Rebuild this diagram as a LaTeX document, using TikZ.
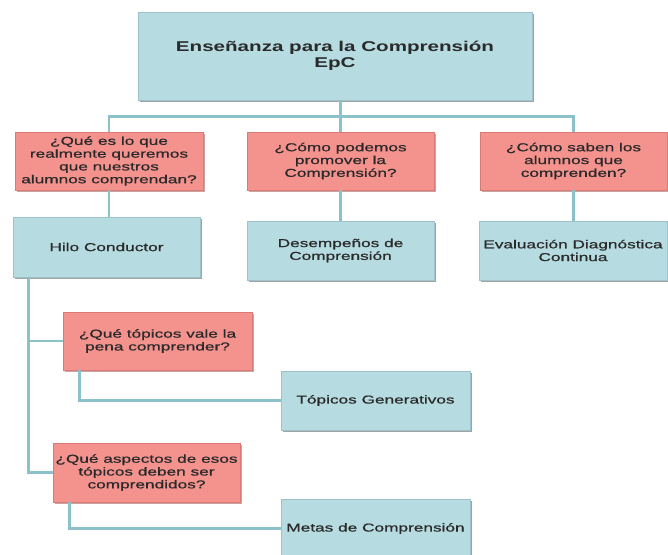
\documentclass[tikz,border=0pt]{standalone}
\usepackage{fontspec}
\setmainfont{Liberation Sans}
\newfontfamily\boxfont[FakeStretch=1.5,FakeBold=0.8]{Liberation Sans}
\newfontfamily\titlefont[FakeStretch=1.45]{Liberation Sans}
\usetikzlibrary{positioning, shadows}
\definecolor{epblue}{HTML}{B6DCE2}
\definecolor{epblueedge}{HTML}{9CC3CA}
\definecolor{epred}{HTML}{F4928E}
\definecolor{eprededge}{HTML}{D87A76}
\definecolor{eplink}{HTML}{8DC1CA}
\definecolor{eptext}{HTML}{2A2A2A}

\begin{document}
\begin{tikzpicture}[
  x=1pt, y=-1pt,
  every node/.style={font=\boxfont\fontsize{11.5}{12.8}\selectfont, text=eptext},
  bluebox/.style={rectangle, align=center, inner sep=0pt, fill=epblue, draw=epblueedge, line width=0.5pt, drop shadow={shadow xshift=1.5pt, shadow yshift=-2.4pt, opacity=.6, fill=black!60}},
  redbox/.style={rectangle, align=center, inner sep=0pt, fill=epred, draw=eprededge, line width=0.5pt, drop shadow={shadow xshift=1.5pt, shadow yshift=-2.4pt, opacity=.6, fill=black!55!red!60}},
  link/.style={draw=eplink, line width=2.6pt},
]
\useasboundingbox[fill=white] (0,0) rectangle (668,554);

% top
\node[bluebox, minimum width=394pt, minimum height=88pt, font=\titlefont\bfseries\fontsize{14.2}{15.5}\selectfont] (epc) at (335,56) {Enseñanza para la Comprensión\\EpC};

% questions
\node[redbox, minimum width=188pt, minimum height=58pt] (qwhat) at (109,161) {¿Qué es lo que\\realmente queremos\\que nuestros\\alumnos comprendan?};
\node[redbox, minimum width=187pt, minimum height=58pt] (qhow) at (340.5,161) {¿Cómo podemos\\promover la\\Comprensión?};
\node[redbox, minimum width=187pt, minimum height=58pt] (qknow) at (573.5,161) {¿Cómo saben los\\alumnos que\\comprenden?};

% answers
\node[bluebox, minimum width=187pt, minimum height=60pt] (hilo) at (106.5,247) {Hilo Conductor};
\node[bluebox, minimum width=187pt, minimum height=59pt] (desemp) at (340.5,250.5) {Desempeños de\\Comprensión};
\node[bluebox, minimum width=188pt, minimum height=59pt] (eval) at (573,250.5) {Evaluación Diagnóstica\\Continua};

% hilo conductor branch
\node[redbox, minimum width=189pt, minimum height=58pt] (qtopic) at (157.5,341) {¿Qué tópicos vale la\\pena comprender?};
\node[bluebox, minimum width=189pt, minimum height=59pt] (topicos) at (375.5,400.5) {Tópicos Generativos};
\node[redbox, minimum width=187pt, minimum height=59pt] (qaspect) at (146.5,472.5) {¿Qué aspectos de esos\\tópicos deben ser\\comprendidos?};
\node[bluebox, minimum width=189pt, minimum height=59pt] (metas) at (375.5,528.5) {Metas de Comprensión};

% connectors
\draw[link] (qwhat.north) -- ++(0,-15) -| (qknow.north);
\draw[link] (epc.south -| qhow.north) -- (qhow.north);
\draw[link] (qwhat.south) -- (qwhat.south |- hilo.north);
\draw[link] (qhow.south) -- (desemp.north);
\draw[link] (qknow.south) -- (qknow.south |- eval.north);
\draw[link] ([xshift=16pt]hilo.south west) |- (qaspect.west);
\draw[link] ([xshift=16pt]hilo.south west |- qtopic.west) -- (qtopic.west);
\draw[link] ([xshift=17pt]qtopic.south west) |- (topicos.west);
\draw[link] ([xshift=17pt]qaspect.south west) |- (metas.west);
\end{tikzpicture}
\end{document}
